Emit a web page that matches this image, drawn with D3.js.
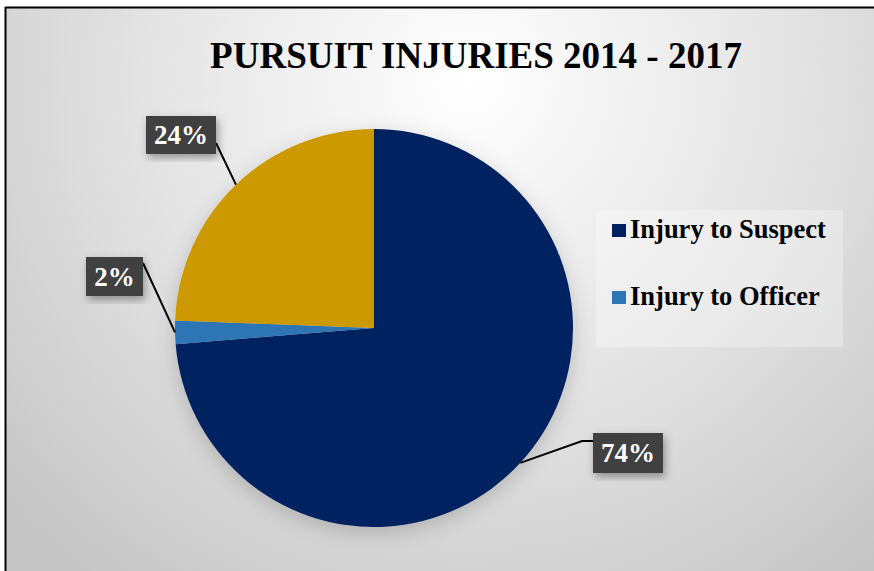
<!DOCTYPE html>
<html>
<head>
<meta charset="utf-8">
<script src="https://cdn.jsdelivr.net/npm/d3@7"></script>
<style>
  body { margin: 0; background: #fff; }
  svg { display: block; }
  text { font-family: "Liberation Serif", "Times New Roman", serif; font-weight: bold; }
</style>
</head>
<body>
<script>
// data (share of injuries, %)
const categories = ["Injury to Suspect", "Injury to Officer", "Other"];
const values = [73.7, 1.9, 24.4];
const legendItems = ["Injury to Suspect", "Injury to Officer"];
const colors = ["#002060", "#2E75B6", "#CC9900"];

const width = 874, height = 571;
const cx = 374, cy = 328, r = 199;

const svg = d3.select("body").append("svg")
  .attr("width", width).attr("height", height);

const defs = svg.append("defs");
const bg = defs.append("radialGradient").attr("id", "bg")
  .attr("gradientUnits", "userSpaceOnUse")
  .attr("cx", 470).attr("cy", 80).attr("r", 620);
bg.append("stop").attr("offset", "0%").attr("stop-color", "#ffffff");
bg.append("stop").attr("offset", "55%").attr("stop-color", "#e2e2e2");
bg.append("stop").attr("offset", "100%").attr("stop-color", "#c6c6c6");

const sh = defs.append("filter").attr("id", "shadow")
  .attr("x", "-20%").attr("y", "-20%").attr("width", "140%").attr("height", "140%");
sh.append("feDropShadow").attr("dx", 2).attr("dy", 4).attr("stdDeviation", 4)
  .attr("flood-color", "#000").attr("flood-opacity", 0.35);

const pieSh = defs.append("filter").attr("id", "pieShadow")
  .attr("x", "-20%").attr("y", "-20%").attr("width", "140%").attr("height", "140%");
pieSh.append("feDropShadow").attr("dx", 0).attr("dy", 6).attr("stdDeviation", 10)
  .attr("flood-color", "#000").attr("flood-opacity", 0.18);

// background + frame
svg.append("rect").attr("x", 6).attr("y", 8).attr("width", width).attr("height", height)
  .attr("fill", "url(#bg)");
svg.append("line").attr("x1", 5).attr("x2", width).attr("y1", 7.5).attr("y2", 7.5)
  .attr("stroke", "#000").attr("stroke-width", 2);
svg.append("line").attr("x1", 5.5).attr("x2", 5.5).attr("y1", 7).attr("y2", height)
  .attr("stroke", "#000").attr("stroke-width", 2);

// title
svg.append("text").attr("x", 476).attr("y", 68).attr("text-anchor", "middle")
  .attr("font-size", 37).attr("fill", "#000")
  .text("PURSUIT INJURIES 2014 - 2017");

// pie
const pie = d3.pie().sort(null).value(d => d)(values);
const arc = d3.arc().innerRadius(0).outerRadius(r);
const g = svg.append("g").attr("transform", `translate(${cx},${cy})`);
g.append("g").attr("filter", "url(#pieShadow)")
  .selectAll("path").data(pie).join("path")
  .attr("d", arc)
  .attr("fill", (d, i) => colors[i]);

// data label boxes + leader lines
const boxes = [
  { x: 593, y: 433, w: 70, h: 40, elbow: [582, 441], anchor: [593, 441] },
  { x: 86, y: 257, w: 57, h: 39, elbow: null, anchor: [143, 263] },
  { x: 146, y: 116, w: 70, h: 38, elbow: null, anchor: [216, 143] }
];
const lab = svg.append("g");
pie.forEach((d, i) => {
  const a = (d.startAngle + d.endAngle) / 2;
  const px = cx + Math.sin(a) * r, py = cy - Math.cos(a) * r;
  const b = boxes[i];
  const pts = [[px, py]];
  if (b.elbow) pts.push(b.elbow);
  pts.push(b.anchor);
  lab.append("path").attr("d", d3.line()(pts))
    .attr("fill", "none").attr("stroke", "#000").attr("stroke-width", 2);
  lab.append("rect").attr("x", b.x).attr("y", b.y).attr("width", b.w).attr("height", b.h)
    .attr("fill", "#404040").attr("filter", "url(#shadow)");
  lab.append("text").attr("x", b.x + b.w / 2).attr("y", b.y + b.h / 2 + 9)
    .attr("text-anchor", "middle").attr("font-size", 27).attr("fill", "#fff")
    .text(Math.round(d.data) + "%");
});

// legend
const leg = svg.append("g");
leg.append("rect").attr("x", 596).attr("y", 210).attr("width", 247).attr("height", 137)
  .attr("fill", "#ffffff").attr("fill-opacity", 0.3);
legendItems.forEach((t, i) => {
  const y = 224 + i * 67;
  leg.append("rect").attr("x", 612).attr("y", y).attr("width", 14).attr("height", 13)
    .attr("fill", colors[i]);
  leg.append("text").attr("x", 630).attr("y", y + 14).attr("font-size", 26.5)
    .attr("fill", "#000").text(t);
});
</script>
</body>
</html>
